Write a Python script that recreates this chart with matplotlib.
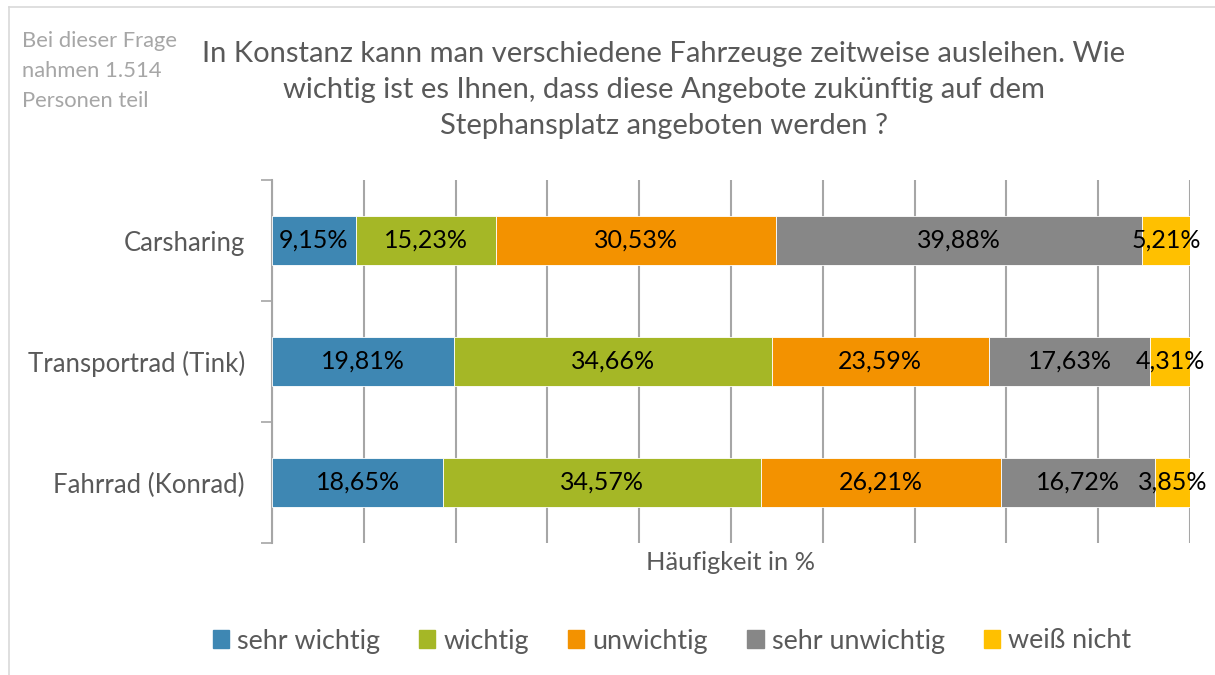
import matplotlib
matplotlib.use("Agg")
import matplotlib.pyplot as plt
import numpy as np
from matplotlib.lines import Line2D

plt.rcParams['font.family'] = ['Lato', 'DejaVu Sans']

categories = ["Carsharing", "Transportrad (Tink)", "Fahrrad (Konrad)"]
series_names = ["sehr wichtig", "wichtig", "unwichtig", "sehr unwichtig", "weiß nicht"]
sehr_wichtig = [9.15, 19.81, 18.65]
wichtig = [15.23, 34.66, 34.57]
unwichtig = [30.53, 23.59, 26.21]
sehr_unwichtig = [39.88, 17.63, 16.72]
weiss_nicht = [5.21, 4.31, 3.85]
series = [sehr_wichtig, wichtig, unwichtig, sehr_unwichtig, weiss_nicht]
colors = ["#3E87B3", "#A5B726", "#F39200", "#878787", "#FFC000"]

title = ("In Konstanz kann man verschiedene Fahrzeuge zeitweise ausleihen. Wie\n"
         "wichtig ist es Ihnen, dass diese Angebote zukünftig auf dem\n"
         "Stephansplatz angeboten werden ?")
note = "Bei dieser Frage\nnahmen 1.514\nPersonen teil"
xlabel = "Häufigkeit in %"

fig = plt.figure(figsize=(12.15, 6.75), dpi=100)
ax = fig.add_axes([272/1215, 1-543/675, (1190-272)/1215, (543-180)/675])

y = np.arange(len(categories))
left = np.zeros(len(categories))
for name, vals, c in zip(series_names, series, colors):
    vals = np.array(vals)
    ax.barh(y, vals, left=left, height=0.4, color=c, edgecolor="white",
            linewidth=0.6, label=name, zorder=3)
    for yi, l, v in zip(y, left, vals):
        ax.text(l + v/2, yi, f"{v:.2f}%".replace(".", ","), ha="center", va="center",
                fontsize=18, color="black", zorder=4)
    left += vals

ax.set_xlim(0, 100)
ax.set_ylim(2.5, -0.5)
ax.set_xticks(np.arange(0, 101, 10))
ax.tick_params(axis="x", length=0, labelbottom=False)
ax.grid(axis="x", color="#A6A6A6", linewidth=1.5, zorder=0)
ax.set_yticks(y)
ax.set_yticklabels(categories, fontsize=18.5, color="#595959")
ax.tick_params(axis="y", which="major", length=0, pad=19.5)
ax.set_yticks([-0.5, 0.5, 1.5, 2.5], minor=True)
ax.tick_params(axis="y", which="minor", length=8, width=1.2, color="#A6A6A6", direction="out")
for s in ["top", "right", "bottom"]:
    ax.spines[s].set_visible(False)
ax.spines["left"].set_color("#A6A6A6")
ax.spines["left"].set_linewidth(1.5)

fig.text(731/1215, 1-563/675, xlabel, ha="center", va="center", fontsize=18.3, color="#595959")
fig.text(664/1215, 1-90/675, title, ha="center", va="center", fontsize=21,
         color="#595959", linespacing=1.48)
fig.text(22/1215, 1-71/675, note, ha="left", va="center", fontsize=15.8,
         color="#A6A6A6", linespacing=1.6)

handles = [plt.Rectangle((0, 0), 1, 1, color=c) for c in colors]
fig.legend(handles, series_names, loc="center", bbox_to_anchor=(672/1215, 1-641/675),
           ncol=5, frameon=False, fontsize=19.4, labelcolor="#595959",
           handlelength=0.6, handleheight=0.6, handletextpad=0.3, columnspacing=1.46)

# frame
fig.add_artist(Line2D([9/1215, 9/1215], [0, 1-7/675], color="#D9D9D9", linewidth=1.2,
                      transform=fig.transFigure))
fig.add_artist(Line2D([9/1215, 1], [1-7/675, 1-7/675], color="#D9D9D9", linewidth=1.2,
                      transform=fig.transFigure))

fig.savefig("out.png", dpi=100)
